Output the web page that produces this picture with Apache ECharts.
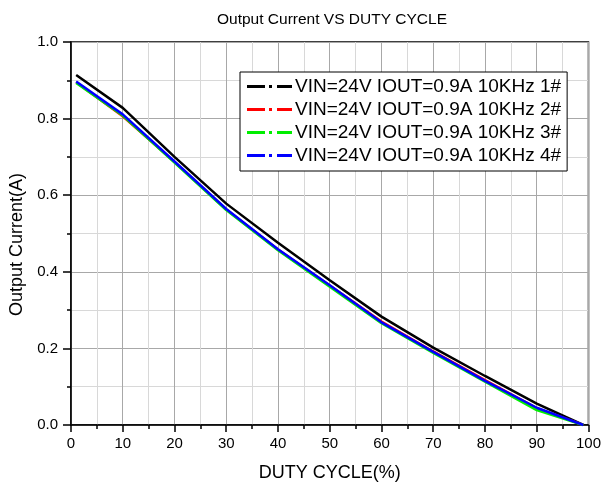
<!DOCTYPE html>
<html>
<head>
<meta charset="utf-8">
<script src="https://cdn.jsdelivr.net/npm/echarts@6/dist/echarts.min.js"></script>
<style>
  html, body { margin: 0; padding: 0; background: #fff; }
  #chart { width: 604px; height: 487px; }
</style>
</head>
<body>
<div id="chart"></div>
<script>
var duty = [1, 10, 20, 30, 40, 50, 60, 70, 80, 90, 99];
var cur1 = [0.914, 0.828, 0.700, 0.578, 0.476, 0.378, 0.283, 0.202, 0.128, 0.056, 0];
var cur2 = [0.895, 0.806, 0.687, 0.563, 0.458, 0.364, 0.270, 0.192, 0.117, 0.044, 0];
var cur3 = [0.893, 0.808, 0.685, 0.561, 0.456, 0.361, 0.266, 0.188, 0.113, 0.039, 0];
var cur4 = [0.897, 0.811, 0.688, 0.564, 0.459, 0.365, 0.268, 0.191, 0.115, 0.045, 0];
var names = [
    'VIN=24V IOUT=0.9A 10KHz 1#',
    'VIN=24V IOUT=0.9A 10KHz 2#',
    'VIN=24V IOUT=0.9A 10KHz 3#',
    'VIN=24V IOUT=0.9A 10KHz 4#'
];
var colors = ['#000000', '#ff0000', '#00ee00', '#0000ff'];

var myChart = echarts.init(document.getElementById('chart'));
var font = 'Liberation Sans, Arial, sans-serif';

function pairs(ys) {
    return duty.map(function (x, i) { return [x, ys[i]]; });
}

var series = [cur1, cur2, cur3, cur4].map(function (ys, i) {
    return {
        name: names[i],
        type: 'line',
        data: pairs(ys),
        showSymbol: false,
        symbol: 'none',
        lineStyle: { color: colors[i], width: 2.5 },
        itemStyle: { color: colors[i] }
    };
});

// dash - dot - dash, like the legend sample in the original
var dashDot = 'path://M0,0H18V3H0Z M22,0H25V3H22Z M30,0H45V3H30Z';

var option = {
    animation: false,
    title: {
        text: 'Output Current VS DUTY CYCLE',
        left: 327,
        textAlign: 'center',
        top: 7,
        textStyle: { fontFamily: font, fontSize: 15.5, fontWeight: 'normal', color: '#000' }
    },
    grid: {
        left: 71, right: 13, top: 42, bottom: 61,
        show: true, borderColor: '#000', borderWidth: 1.5
    },
    legend: {
        orient: 'vertical',
        left: 240, top: 72,
        padding: [5, 6, 6, 7],
        itemGap: 4,
        itemWidth: 45,
        itemHeight: 3,
        icon: dashDot,
        borderColor: '#000',
        borderWidth: 1,
        backgroundColor: '#fff',
        textStyle: { fontFamily: font, fontSize: 19, color: '#000', padding: [0, 0, 0, -2] },
        data: names
    },
    xAxis: {
        type: 'value',
        min: 0, max: 100, interval: 10,
        name: 'DUTY CYCLE(%)',
        nameLocation: 'middle',
        nameGap: 39,
        nameTextStyle: { fontFamily: font, fontSize: 18, color: '#000' },
        axisLine: { lineStyle: { color: '#000', width: 1.5 } },
        axisTick: { inside: false, length: 7, lineStyle: { color: '#000', width: 1.5 } },
        minorTick: { show: true, splitNumber: 2, length: 4, lineStyle: { color: '#000', width: 1.5 } },
        axisLabel: { fontFamily: font, fontSize: 15, color: '#000', margin: 11 },
        splitLine: { show: true, lineStyle: { color: '#a8a8a8', width: 1 } },
        minorSplitLine: { show: true, lineStyle: { color: '#d8d8d8', width: 1 } }
    },
    yAxis: {
        type: 'value',
        min: 0, max: 1, interval: 0.2,
        name: 'Output Current(A)',
        nameLocation: 'middle',
        nameGap: 44,
        nameTextStyle: { fontFamily: font, fontSize: 18, color: '#000', padding: [0, 22, 0, 0] },
        axisLine: { show: true, lineStyle: { color: '#000', width: 1.5 } },
        axisTick: { show: true, inside: false, length: 8, lineStyle: { color: '#000', width: 1.5 } },
        minorTick: { show: true, splitNumber: 2, length: 4, lineStyle: { color: '#000', width: 1.5 } },
        axisLabel: {
            fontFamily: font, fontSize: 15, color: '#000', margin: 13,
            formatter: function (v) { return v.toFixed(1); }
        },
        splitLine: { show: true, lineStyle: { color: '#a8a8a8', width: 1 } },
        minorSplitLine: { show: true, lineStyle: { color: '#d8d8d8', width: 1 } }
    },
    series: series
};

myChart.setOption(option);
</script>
</body>
</html>
